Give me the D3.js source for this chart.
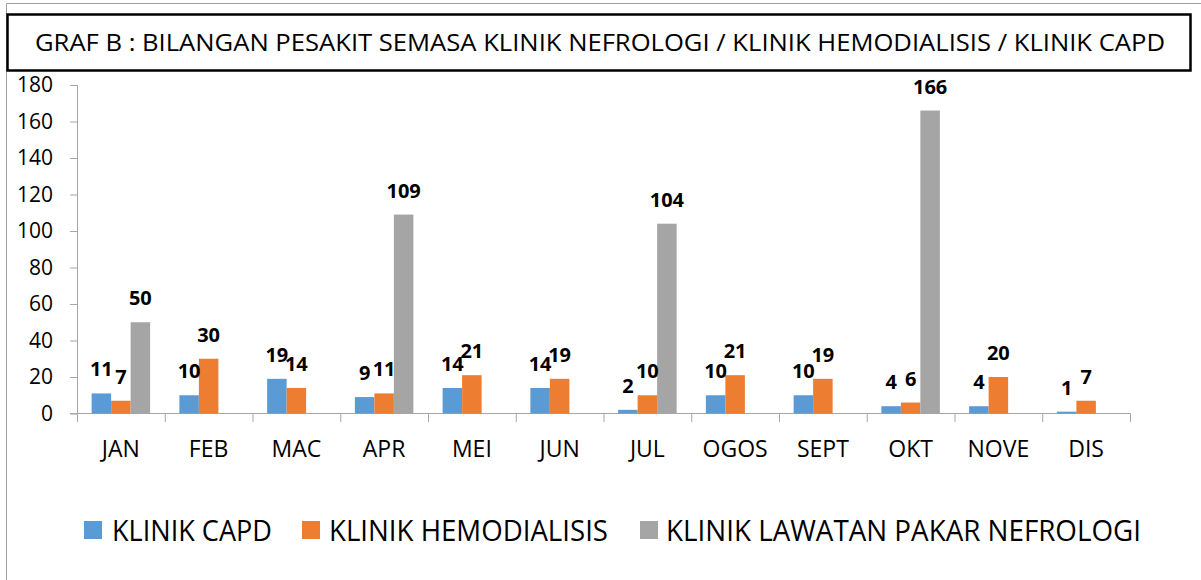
<!DOCTYPE html>
<html>
<head>
<meta charset="utf-8">
<script src="https://cdn.jsdelivr.net/npm/d3@7"></script>
<style>
  body { margin: 0; background: #fff; }
  svg { font-family: "Open Sans", "Noto Sans", sans-serif; }
</style>
</head>
<body>
<div id="chart"></div>
<script>
// data
var months = ["JAN", "FEB", "MAC", "APR", "MEI", "JUN", "JUL", "OGOS", "SEPT", "OKT", "NOVE", "DIS"];
var series = ["KLINIK CAPD", "KLINIK HEMODIALISIS", "KLINIK LAWATAN PAKAR NEFROLOGI"];
var capd     = [11, 10, 19, 9, 14, 14, 2, 10, 10, 4, 4, 1];
var hemo     = [7, 30, 14, 11, 21, 19, 10, 21, 19, 6, 20, 7];
var lawatan  = [50, null, null, 109, null, null, 104, null, null, 166, null, null];
var yTicks   = [0, 20, 40, 60, 80, 100, 120, 140, 160, 180];
var title = "GRAF B : BILANGAN PESAKIT SEMASA KLINIK NEFROLOGI / KLINIK HEMODIALISIS / KLINIK CAPD";

var colors = ["#5b9bd5", "#ed7d31", "#a5a5a5"];
var values = [capd, hemo, lawatan];

var W = 1201, H = 580;
var svg = d3.select("#chart").append("svg")
    .attr("width", W)
    .attr("height", H);

// outer frame (gray)
svg.append("path")
  .attr("d", "M6.5,580 V3.5 H1201")
  .attr("fill", "none")
  .attr("stroke", "#a0a0a0")
  .attr("stroke-width", 1);

// title box
svg.append("rect")
  .attr("x", 7.5).attr("y", 14.5)
  .attr("width", 1183).attr("height", 56)
  .attr("fill", "#fff")
  .attr("stroke", "#000")
  .attr("stroke-width", 2.5);

svg.append("text")
  .attr("x", 35).attr("y", 51)
  .attr("font-size", 24)
  .attr("textLength", 1130)
  .attr("lengthAdjust", "spacingAndGlyphs")
  .attr("fill", "#000")
  .text(title);

// scales
var x = d3.scaleBand()
  .domain(months)
  .range([77, 1130])
  .padding(0);

var x1 = d3.scaleBand()
  .domain(series)
  .range([0, x.bandwidth()])
  .paddingInner(0)
  .paddingOuter(0.75);

var y = d3.scaleLinear()
  .domain([0, 180])
  .range([413.5, 85]);

// y axis
var yAxis = svg.append("g")
  .attr("transform", "translate(77,0)")
  .call(d3.axisLeft(y).tickValues(yTicks).tickSize(7).tickPadding(17));
yAxis.select(".domain").attr("stroke", "#a6a6a6").attr("d", "M0.5," + y(180) + "V422");
yAxis.selectAll(".tick line").attr("stroke", "#a6a6a6");
yAxis.selectAll(".tick text")
  .attr("font-size", 21)
  .attr("font-family", "'Open Sans', 'Noto Sans', sans-serif")
  .attr("fill", "#000");

// x axis line + boundary ticks
var xg = svg.append("g");
xg.append("line")
  .attr("x1", 70).attr("x2", x.range()[1] + 0.5)
  .attr("y1", y(0)).attr("y2", y(0))
  .attr("stroke", "#a6a6a6");
var bounds = months.map(function(d) { return x(d); }).concat([x.range()[1]]);
xg.selectAll(".bt")
  .data(bounds)
  .enter().append("line")
    .attr("x1", function(d) { return d + 0.5; })
    .attr("x2", function(d) { return d + 0.5; })
    .attr("y1", y(0)).attr("y2", 422)
    .attr("stroke", "#a6a6a6");
xg.selectAll(".ml")
  .data(months)
  .enter().append("text")
    .attr("x", function(d) { return x(d) + x.bandwidth() / 2; })
    .attr("y", 457)
    .attr("text-anchor", "middle")
    .attr("font-size", 23)
    .attr("fill", "#000")
    .text(function(d) { return d; });

// bars
var rows = [];
months.forEach(function(m, i) {
  series.forEach(function(s, j) {
    if (values[j][i] != null) rows.push({month: m, key: s, idx: j, value: values[j][i]});
  });
});

svg.append("g").selectAll("rect")
  .data(rows)
  .enter().append("rect")
    .attr("x", function(d) { return x(d.month) + x1(d.key); })
    .attr("y", function(d) { return y(d.value); })
    .attr("width", x1.bandwidth())
    .attr("height", function(d) { return y(0) - y(d.value); })
    .attr("fill", function(d) { return colors[d.idx]; });

// data labels
svg.append("g").selectAll("text")
  .data(rows)
  .enter().append("text")
    .attr("x", function(d) { return x(d.month) + x1(d.key) + x1.bandwidth() / 2; })
    .attr("y", function(d) { return y(d.value) - 17; })
    .attr("text-anchor", "middle")
    .attr("font-size", 20)
    .attr("font-weight", "bold")
    .attr("fill", "#000")
    .text(function(d) { return d.value; });

// legend
var legendPos = [
  {sq: 84, tx: 112, len: 160},
  {sq: 302, tx: 329, len: 279},
  {sq: 640, tx: 666, len: 475}
];
var lg = svg.append("g").selectAll("g")
  .data(series)
  .enter().append("g");
lg.append("rect")
  .attr("x", function(d, i) { return legendPos[i].sq; })
  .attr("y", 521)
  .attr("width", 18).attr("height", 18)
  .attr("fill", function(d, i) { return colors[i]; });
lg.append("text")
  .attr("x", function(d, i) { return legendPos[i].tx; })
  .attr("y", 541)
  .attr("font-size", 29)
  .attr("textLength", function(d, i) { return legendPos[i].len; })
  .attr("lengthAdjust", "spacingAndGlyphs")
  .attr("fill", "#000")
  .text(function(d) { return d; });
</script>
</body>
</html>
